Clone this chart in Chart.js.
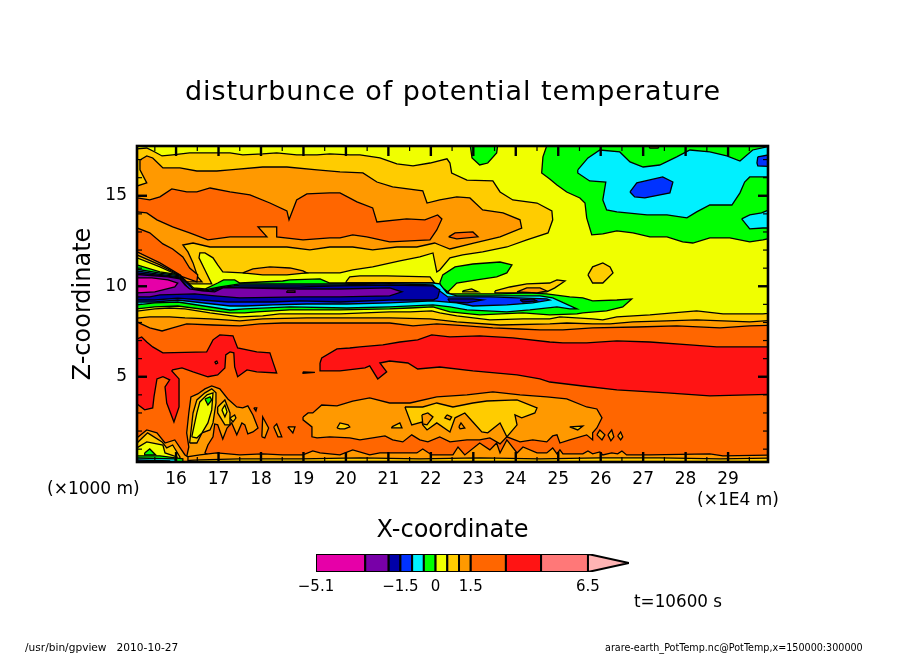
<!DOCTYPE html>
<html><head><meta charset="utf-8">
<script src="https://cdn.jsdelivr.net/npm/chart.js@4"></script>
<style>html,body{margin:0;padding:0;background:#fff}canvas{position:absolute}</style></head>
<body>
<canvas id="main" width="904" height="654" style="left:0;top:0"></canvas>
<canvas id="bar" width="350" height="55" style="left:290px;top:545px"></canvas>
<script>
// Contour regions, as [x (1E4 m), z (km)]
const goldMain=[[14.91,17.53],[15.05,17.59],[15.31,17.64],[15.50,17.42],[15.67,17.20],[15.92,17.26],[16.32,17.37],[16.63,17.37],[16.96,17.37],[17.27,17.37],[17.57,17.26],[18.04,17.31],[18.37,17.37],[18.84,17.26],[19.32,17.26],[19.62,17.31],[20.09,17.26],[20.33,17.26],[20.80,17.09],[21.20,16.76],[21.58,16.65],[21.98,16.81],[22.38,17.04],[22.45,16.81],[22.49,16.26],[22.85,15.87],[23.46,15.82],[23.63,15.21],[23.93,14.77],[24.50,14.60],[24.85,14.16],[24.87,13.67],[24.76,12.95],[24.26,12.56],[23.79,12.17],[23.22,11.90],[22.75,11.73],[22.45,11.57],[22.21,10.90],[22.14,10.79],[22.05,11.84],[21.74,11.62],[21.27,11.40],[20.63,11.07],[20.16,10.90],[19.86,10.74],[19.39,10.74],[19.08,10.74],[17.57,10.74],[17.10,10.79],[16.98,11.18],[16.87,11.57],[16.68,11.84],[16.56,11.84],[16.54,11.57],[16.68,10.90],[16.84,10.13],[16.32,10.13],[15.08,11.18],[14.91,11.18]];
const amberMain=[[15.15,16.98],[15.31,17.20],[15.45,17.09],[15.62,16.70],[15.69,16.54],[16.09,16.54],[16.49,16.37],[16.96,16.37],[17.27,16.43],[18.04,16.59],[18.61,16.59],[19.32,16.43],[19.86,16.32],[20.40,16.26],[20.73,15.76],[21.10,15.49],[21.81,15.27],[21.91,14.60],[22.21,14.77],[22.61,14.94],[22.92,14.88],[23.22,14.22],[23.70,14.05],[24.10,13.67],[24.14,13.22],[23.63,12.73],[23.01,12.39],[22.45,12.06],[22.21,12.28],[22.09,12.39],[21.67,12.17],[21.20,12.17],[20.63,12.01],[20.16,12.17],[19.62,12.17],[19.15,12.01],[18.61,12.17],[18.04,12.17],[17.27,12.17],[16.80,12.17],[16.40,12.39],[16.16,12.28],[16.28,11.90],[16.40,11.29],[16.51,10.52],[16.61,10.24],[16.09,10.24],[15.08,11.57],[14.91,11.73],[14.91,15.54],[15.08,15.54],[15.31,15.71],[15.15,16.43]];
const orangeUpper=[[14.91,14.88],[15.08,14.88],[15.38,14.77],[15.62,14.94],[15.90,15.38],[16.25,15.21],[16.49,15.21],[16.80,15.43],[17.27,15.21],[17.74,15.05],[18.21,14.60],[18.61,14.16],[18.66,13.67],[18.84,14.77],[19.08,15.10],[19.62,15.16],[19.86,15.16],[20.26,14.66],[20.63,14.33],[20.73,13.55],[21.43,13.72],[21.86,13.67],[22.16,13.94],[22.26,13.72],[22.14,13.11],[21.98,12.56],[21.03,12.45],[20.49,12.73],[20.16,12.84],[19.86,12.67],[19.62,12.67],[18.99,12.56],[18.37,12.73],[18.37,13.28],[17.93,13.28],[18.14,12.73],[17.27,12.73],[16.75,12.56],[16.32,12.95],[15.92,13.28],[15.55,13.67],[15.31,14.05],[15.08,14.11],[14.91,14.11]];
const orangeLens=[[22.42,12.73],[22.57,12.95],[22.99,13.00],[23.11,12.73],[22.61,12.62]];
const amberLens=[[17.57,10.74],[17.81,10.96],[18.21,11.07],[18.68,11.01],[18.99,10.85],[19.08,10.74],[18.61,10.63],[18.04,10.63]];
const orangeLower=[[14.91,13.22],[15.08,13.22],[15.38,12.95],[15.69,12.34],[15.92,12.06],[16.16,11.62],[16.32,11.01],[16.51,10.63],[16.49,10.24],[16.09,10.57],[15.08,11.90],[14.91,11.90]];
const amberWedge=[[14.91,11.95],[15.08,11.90],[15.62,11.29],[16.09,10.63],[16.21,10.29],[14.91,10.29]];
const goldWedge=[[14.91,11.73],[15.08,11.73],[15.62,11.18],[16.09,10.60],[16.21,10.29],[14.91,10.29]];
const yellowWedge=[[14.91,11.57],[15.08,11.57],[15.62,11.07],[16.09,10.57],[16.21,10.29],[14.91,10.29]];
const greenTopBlob=[[22.92,17.9],[22.97,17.09],[23.15,16.70],[23.34,16.81],[23.55,17.37],[23.58,17.9]];
const greenMain=[[24.75,17.9],[24.64,17.15],[24.61,16.26],[24.80,15.93],[24.97,15.60],[25.20,15.21],[25.51,14.88],[25.63,14.60],[25.67,13.78],[25.79,12.84],[26.05,12.89],[26.38,13.06],[26.76,12.95],[27.16,12.73],[27.56,12.73],[27.93,12.45],[28.17,12.39],[28.57,12.67],[29.04,12.67],[29.51,12.45],[29.82,12.56],[30.22,12.78],[30.22,18.1]];
const cyanMain=[[25.46,16.43],[25.70,17.09],[25.98,17.53],[26.45,17.42],[26.69,16.87],[27.00,16.59],[27.39,16.70],[27.79,17.15],[28.10,17.53],[28.57,17.42],[28.97,17.20],[29.28,16.92],[29.58,17.53],[29.91,17.70],[30.22,17.70],[30.22,16.04],[29.51,16.04],[29.39,15.76],[29.28,15.16],[29.09,14.49],[28.57,14.49],[28.26,14.11],[28.03,13.78],[27.56,13.94],[27.09,13.94],[26.38,14.11],[26.14,14.22],[26.05,14.77],[26.12,15.76],[25.74,15.82],[25.46,16.26]];
const blueBlob=[[26.69,15.21],[26.85,15.71],[27.46,16.04],[27.70,15.76],[27.63,15.16],[27.04,14.88],[26.80,14.94]];
const blueRight=[[29.70,17.15],[30.22,17.37],[30.22,16.59],[29.70,16.65],[29.68,16.81]];
const cyanRight=[[29.32,13.72],[29.51,13.94],[29.79,14.05],[30.22,14.49],[30.22,13.22],[29.82,13.22],[29.51,13.17]];
const goldBlob=[[25.70,10.63],[25.81,11.07],[26.05,11.29],[26.22,11.07],[26.29,10.74],[26.05,10.18],[25.81,10.18]];
const yellowDot=[[27.09,17.9],[27.42,17.9],[27.35,17.64],[27.16,17.64]];
const greenCentre=[[22.21,10.18],[22.28,10.63],[22.57,11.07],[22.99,11.23],[23.63,11.34],[23.91,11.18],[23.79,10.74],[23.55,10.52],[23.08,10.35],[22.61,10.18],[22.40,9.69],[22.26,9.91]];
const goldThin=[[20.00,10.24],[20.09,10.52],[20.33,10.57],[20.96,10.57],[21.98,10.52],[22.09,10.18],[20.00,10.18]];
const goldBand=[[23.51,9.74],[23.86,9.96],[24.26,10.13],[24.80,10.18],[24.97,10.35],[25.16,10.29],[24.92,9.91],[24.73,9.69],[24.03,9.63],[23.51,9.63]];
const amberBand=[[24.03,9.69],[24.26,9.91],[24.57,9.91],[24.73,9.74],[24.50,9.63]];
const goldSmall=[[22.75,9.74],[22.96,9.85],[23.11,9.69],[22.75,9.69]];
const greenBelt=[[14.91,11.18],[15.08,11.18],[15.62,10.79],[16.09,10.63],[16.23,10.29],[16.40,9.91],[16.68,9.85],[16.98,10.18],[17.12,10.35],[17.38,10.35],[17.50,10.18],[18.51,10.29],[18.68,10.35],[19.39,10.41],[19.62,10.18],[19.97,10.18],[21.27,10.18],[21.98,10.18],[22.14,10.13],[22.45,9.58],[22.99,9.58],[23.63,9.58],[24.26,9.63],[24.73,9.58],[25.27,9.41],[25.58,9.36],[25.81,9.19],[26.38,9.24],[26.73,9.30],[26.52,8.86],[26.14,8.64],[25.58,8.53],[25.44,8.47],[24.80,8.42],[24.17,8.53],[23.15,8.42],[22.45,8.58],[22.05,8.86],[21.51,8.80],[21.03,8.75],[19.86,8.69],[18.68,8.69],[17.90,8.58],[17.62,8.53],[17.27,8.53],[16.04,8.91],[15.50,8.86],[15.08,8.75],[14.91,8.75]];
const cyanBelt=[[14.91,11.01],[15.62,10.72],[16.09,10.57],[16.28,10.18],[16.44,9.85],[16.68,9.80],[17.03,9.96],[17.50,10.13],[18.92,10.13],[19.86,10.13],[21.03,10.18],[22.05,10.18],[22.21,10.13],[22.38,9.63],[22.61,9.47],[23.39,9.47],[24.57,9.47],[24.87,9.36],[25.44,8.75],[25.27,8.75],[24.97,8.86],[24.33,8.69],[23.79,8.58],[22.85,8.69],[22.45,8.86],[22.05,8.97],[21.03,8.86],[20.02,8.80],[18.68,8.86],[17.62,8.75],[17.27,8.69],[16.04,9.13],[15.50,9.08],[15.08,8.97],[14.91,8.97]];
const blueBelt=[[14.91,10.90],[15.62,10.66],[16.09,10.52],[16.25,10.18],[16.40,9.85],[16.68,9.74],[17.03,9.91],[17.50,10.07],[18.68,10.07],[19.86,10.07],[21.03,10.15],[22.05,10.07],[22.21,9.74],[22.40,9.41],[23.39,9.41],[24.73,9.30],[24.80,9.24],[24.40,9.08],[23.79,8.97],[22.99,8.91],[22.61,9.08],[22.05,9.19],[21.03,9.08],[20.02,9.02],[19.08,9.02],[18.28,8.97],[17.62,8.91],[17.27,8.91],[16.04,9.24],[15.50,9.13],[15.08,9.13],[14.91,9.13]];
const navyBelt=[[14.91,10.79],[15.62,10.60],[16.09,10.46],[16.25,10.02],[16.37,9.74],[16.68,9.63],[17.08,9.91],[17.50,9.96],[18.92,9.96],[19.86,10.02],[21.03,10.07],[22.05,10.02],[22.21,9.80],[22.16,9.36],[22.05,9.24],[21.03,9.24],[19.86,9.13],[18.92,9.19],[18.28,9.13],[17.62,9.13],[17.22,9.13],[16.61,9.24],[16.04,9.35],[15.50,9.24],[15.08,9.24],[14.91,9.24]];
const navyRight=[[22.40,9.30],[22.99,9.30],[23.22,9.24],[22.85,9.08],[22.45,9.13]];
const navySmall=[[24.10,9.24],[24.40,9.30],[24.50,9.19],[24.17,9.13]];
const purpleBelt=[[14.91,10.68],[15.81,10.52],[16.09,10.41],[16.21,10.07],[16.32,9.85],[16.61,9.74],[16.91,9.69],[17.10,9.91],[17.38,9.91],[17.50,9.91],[18.92,9.85],[19.86,9.85],[21.03,9.91],[21.32,9.69],[21.03,9.47],[19.86,9.41],[18.92,9.41],[17.50,9.36],[16.91,9.47],[16.44,9.58],[15.62,9.52],[15.38,9.41],[15.08,9.41],[14.91,9.41]];
const magentaCore=[[14.91,10.46],[15.43,10.46],[15.81,10.35],[16.04,10.18],[15.97,9.96],[15.50,9.69],[15.08,9.63],[14.91,9.63]];
const magentaSpeck=[[18.61,9.74],[18.80,9.74],[18.80,9.66],[18.61,9.66]];
const goldBelowTop=[[14.91,8.58],[15.50,8.75],[15.85,8.80],[16.21,8.75],[16.80,8.53],[17.50,8.31],[18.04,8.36],[18.44,8.47],[19.86,8.47],[21.03,8.58],[21.51,8.58],[22.02,8.64],[22.21,8.53],[22.61,8.36],[23.39,8.14],[24.17,8.20],[24.80,8.20],[25.04,8.31],[25.81,8.20],[26.05,8.14],[26.38,8.31],[27.16,8.42],[27.70,8.53],[28.26,8.64],[28.88,8.47],[29.82,8.47],[30.22,8.58]];
const amberBelowTop=[[14.91,8.20],[15.38,8.31],[15.85,8.31],[16.21,8.25],[16.80,8.20],[17.50,8.09],[18.04,8.20],[19.08,8.25],[20.02,8.25],[21.03,8.25],[21.98,8.20],[22.61,8.03],[23.63,7.86],[24.80,7.92],[25.20,7.97],[25.81,7.92],[26.22,7.92],[26.76,8.03],[27.56,8.09],[28.26,8.14],[28.88,8.09],[29.51,8.03],[30.22,8.14]];
const orangeBelowTop=[[14.91,8.09],[15.08,8.03],[15.38,7.70],[15.67,7.53],[15.92,7.70],[16.25,7.92],[16.87,7.86],[17.50,7.81],[17.97,7.92],[18.51,7.97],[19.86,7.97],[21.03,7.97],[21.58,7.81],[22.14,7.92],[22.85,7.81],[23.46,7.70],[24.10,7.64],[24.57,7.59],[25.11,7.59],[25.81,7.70],[26.85,7.75],[27.79,7.81],[28.81,7.70],[29.51,7.81],[30.22,7.86]];
const redLeft=[[14.91,7.09],[15.08,7.09],[15.19,7.20],[15.31,6.92],[15.45,6.65],[15.69,6.32],[16.72,6.37],[16.87,7.04],[17.03,7.31],[17.34,7.26],[17.45,6.59],[17.90,6.37],[18.21,6.32],[18.28,5.82],[18.37,5.21],[17.90,5.27],[17.67,5.38],[17.45,5.00],[17.38,5.54],[17.36,6.32],[17.27,6.37],[17.17,6.21],[17.15,5.49],[16.98,5.10],[16.75,5.00],[16.40,5.27],[16.14,5.49],[15.92,5.38],[15.90,5.32],[16.07,4.88],[16.07,3.33],[15.95,2.50],[15.78,3.55],[15.74,4.44],[15.85,4.83],[15.69,5.00],[15.55,4.88],[15.48,3.89],[15.45,3.28],[15.26,3.17],[15.08,3.50],[14.91,3.50]];
const redDot=[[16.91,5.82],[16.96,5.87],[16.98,5.76],[16.94,5.71]];
const redMain=[[19.39,5.76],[19.43,6.04],[19.79,6.54],[20.09,6.59],[20.33,6.65],[20.87,6.76],[21.27,6.92],[21.69,7.04],[22.02,7.31],[22.45,7.20],[23.15,7.26],[23.93,7.15],[24.80,6.92],[25.11,6.87],[25.67,6.87],[26.38,6.98],[27.16,6.92],[28.10,6.76],[28.73,6.65],[30.22,6.65],[30.22,4.05],[28.57,3.94],[27.56,4.11],[26.38,4.27],[25.58,4.49],[24.80,4.71],[24.57,4.88],[24.03,5.10],[22.99,5.32],[22.21,5.54],[21.69,5.43],[21.46,5.76],[21.03,5.87],[20.80,5.76],[20.96,5.27],[20.75,4.88],[20.56,5.60],[20.45,5.49],[19.86,5.32],[19.39,5.32]];
const redSliver=[[18.99,5.27],[19.27,5.24],[18.99,5.19]];
const amberMid=[[18.99,2.78],[19.11,3.00],[19.22,3.00],[19.43,3.44],[19.79,3.39],[20.16,3.66],[20.56,3.83],[21.03,3.55],[21.51,3.55],[22.14,3.89],[22.85,4.00],[23.46,4.16],[24.10,4.00],[24.73,3.89],[25.20,3.78],[25.67,3.33],[25.91,3.22],[26.03,2.73],[25.91,2.17],[25.81,1.90],[25.81,1.51],[25.67,1.79],[25.27,1.51],[25.04,1.34],[24.97,1.79],[24.87,1.73],[24.73,1.40],[24.40,1.51],[24.10,1.40],[23.79,1.68],[23.63,1.29],[23.39,1.62],[23.15,1.51],[22.85,1.51],[22.45,1.40],[22.21,1.68],[21.93,1.40],[21.74,1.51],[21.55,1.79],[21.34,1.40],[21.10,1.51],[20.92,1.73],[20.63,1.62],[20.33,1.51],[20.09,1.62],[19.62,1.68],[19.32,1.62],[19.20,1.68],[19.20,2.23],[18.99,2.62]];
const goldMid=[[21.39,3.33],[21.81,3.33],[22.14,3.55],[22.52,3.33],[22.99,3.55],[23.32,3.66],[24.03,3.72],[24.50,3.28],[24.45,3.00],[24.14,2.73],[23.98,2.89],[24.03,2.34],[23.79,1.68],[23.63,2.45],[23.34,1.90],[23.20,1.95],[22.99,2.50],[22.80,3.00],[22.57,2.73],[22.45,1.95],[22.14,2.45],[21.91,2.06],[21.81,2.34],[21.79,2.50],[21.55,2.34]];
const amberHoleA=[[21.79,2.89],[21.93,3.00],[22.05,2.78],[21.91,2.34],[21.81,2.39]];
const amberHoleB=[[22.38,2.89],[22.49,2.78],[22.45,2.62],[22.33,2.73]];
const amberHoleC=[[22.66,2.23],[22.71,2.45],[22.80,2.17],[22.69,2.12]];
const goldIsleA=[[19.79,2.17],[19.86,2.45],[20.05,2.34],[20.09,2.23],[19.97,2.12],[19.86,2.12]];
const goldIsleB=[[21.08,2.23],[21.27,2.45],[21.32,2.17],[21.08,2.17]];
const goldIsleC=[[25.27,2.23],[25.58,2.28],[25.46,2.06]];
const amberLeft=[[16.25,0.57],[16.30,1.12],[16.25,1.90],[16.30,3.00],[16.35,3.89],[16.51,4.05],[16.68,4.33],[16.84,4.49],[17.03,4.33],[17.22,3.77],[17.43,3.33],[17.57,3.28],[17.69,3.39],[17.81,2.89],[17.93,2.17],[17.81,1.95],[17.69,1.84],[17.62,2.34],[17.55,2.45],[17.43,1.79],[17.31,2.45],[17.20,2.17],[17.10,1.56],[16.98,2.34],[16.91,2.39],[16.87,1.68],[16.75,1.23],[16.68,0.79],[16.80,0.63]];
const goldLeft=[[16.32,1.34],[16.40,3.00],[16.49,3.72],[16.68,4.11],[16.84,4.33],[16.94,4.11],[16.94,3.55],[16.87,2.45],[16.80,2.06],[16.61,1.90],[16.49,1.34]];
const goldLeftB=[[16.98,3.33],[17.15,3.72],[17.27,3.00],[17.27,2.34],[17.15,2.34],[16.98,3.00]];
const yellowLeftB=[[17.08,3.17],[17.15,3.44],[17.20,3.06],[17.15,2.78]];
const goldLeftC=[[17.27,2.72],[17.38,2.89],[17.41,2.72],[17.34,2.50]];
const yellowLeft=[[16.37,1.68],[16.49,3.00],[16.56,3.61],[16.73,4.00],[16.87,4.11],[16.84,3.17],[16.75,2.45],[16.61,1.90],[16.49,1.62]];
const greenLeft=[[16.68,3.77],[16.80,3.89],[16.84,3.72],[16.75,3.44]];
const isleA=[[18.02,1.68],[18.04,2.78],[18.18,2.17],[18.09,1.62]];
const isleB=[[18.30,2.23],[18.37,2.39],[18.49,1.68],[18.40,1.68]];
const isleC=[[18.63,2.23],[18.80,2.23],[18.75,1.90]];
const isleD=[[17.83,3.28],[17.90,3.28],[17.88,3.11]];
const isleE=[[25.91,1.79],[25.98,2.06],[26.10,1.79],[26.03,1.51]];
const isleF=[[26.17,1.79],[26.26,2.06],[26.31,1.68],[26.24,1.46]];
const isleG=[[26.40,1.73],[26.47,1.95],[26.52,1.68],[26.47,1.51]];
const amberFloorTop=[[16.09,0.52],[16.25,0.57],[16.56,0.68],[16.96,0.79],[17.50,0.68],[18.04,0.74],[18.51,0.68],[18.99,0.68],[19.22,0.90],[19.39,0.79],[19.62,0.74],[19.86,0.68],[20.16,0.96],[20.56,0.68],[20.80,0.79],[21.27,0.79],[21.67,0.79],[21.81,1.01],[22.02,0.68],[22.52,0.68],[22.64,1.12],[22.80,0.68],[23.15,1.34],[23.39,0.96],[23.55,1.34],[23.63,0.79],[23.79,1.51],[24.03,0.79],[24.17,1.12],[24.50,0.79],[24.73,0.79],[24.87,1.07],[24.97,0.74],[25.04,0.96],[25.11,0.74],[25.58,0.74],[25.70,0.90],[25.81,0.74],[25.98,0.85],[26.05,0.68],[26.26,0.79],[26.40,0.74],[26.50,0.90],[26.61,0.68],[27.16,0.68],[28.57,0.74],[28.88,0.63],[30.22,0.68]];
const goldFloorTop=[[16.09,0.35],[16.56,0.41],[17.50,0.46],[18.92,0.46],[20.33,0.52],[21.74,0.46],[23.15,0.52],[24.57,0.46],[25.98,0.52],[27.39,0.52],[28.81,0.46],[30.22,0.52]];
const amberCorner=[[14.91,1.62],[15.08,1.62],[15.31,2.06],[15.55,1.90],[15.74,1.34],[15.97,1.51],[16.21,0.68],[16.28,0.57],[16.28,-1],[14.91,-1]];
const goldCorner=[[14.91,1.34],[15.08,1.34],[15.33,1.90],[15.67,1.40],[15.78,1.07],[15.92,1.23],[16.09,0.57],[16.09,-1],[14.91,-1]];
const yellowCorner=[[14.91,1.07],[15.08,1.07],[15.31,1.40],[15.69,1.23],[15.74,0.79],[16.02,0.57],[16.02,-1],[14.91,-1]];
const greenSpot=[[15.26,0.79],[15.38,1.01],[15.52,0.68],[15.26,0.68]];
const greenCorner=[[14.91,0.63],[15.62,0.63],[16.16,0.46],[16.16,-1],[14.91,-1]];
const cyanCorner=[[14.91,0.52],[15.97,0.46],[16.1,-1],[14.91,-1]];
const blueCorner=[[14.91,0.41],[15.85,0.35],[16.0,-1],[14.91,-1]];
const plotBack=[[14.9,18.2],[30.3,18.2],[30.3,-1],[14.9,-1]];

const xTickValues=[15.5,16,16.5,17,17.5,18,18.5,19,19.5,20,20.5,21,21.5,22,22.5,23,23.5,24,24.5,25,25.5,26,26.5,27,27.5,28,28.5,29,29.5];
const zTickValues=[1,2,3,4,5,6,7,8,9,10,11,12,13,14,15,16,17];
const zLabelled=[5,10,15];
const barBounds=[-5.1,-3,-2,-1.5,-1,-0.5,0,0.5,1,1.5,3,4.5,6.5];
const barTip=8.25;
const barLabels=[-5.1,-1.5,0,1.5,6.5];
const C={magenta:'#e600a8',purple:'#7800a8',navy:'#0000a8',blue:'#0032ff',cyan:'#00f0ff',green:'#00ff00',yellow:'#f0ff00',gold:'#ffcc00',amber:'#ff9900',orange:'#ff6600',red:'#ff1414',salmon:'#ff7878',pink:'#ffb4b4'};
const barColors=[C.magenta,C.purple,C.navy,C.blue,C.cyan,C.green,C.yellow,C.gold,C.amber,C.orange,C.red,C.salmon];

const curtain=c=>c.concat([[c[c.length-1][0],-1],[c[0][0],-1]]);
const layers=[
 [plotBack,C.yellow,0],[goldMain,C.gold],[amberMain,C.amber],[orangeUpper,C.orange],[orangeLens,C.orange],[amberLens,C.amber],
 [greenTopBlob,C.green],[greenMain,C.green],[cyanMain,C.cyan],[blueBlob,C.blue],[blueRight,C.blue],[cyanRight,C.cyan],[yellowDot,C.gold],[goldBlob,C.gold],[greenCentre,C.green],
 [orangeLower,C.orange],[amberWedge,C.amber],[goldWedge,C.gold],[yellowWedge,C.yellow],[goldThin,C.gold],[goldBand,C.gold],[amberBand,C.amber],[goldSmall,C.gold],
 [curtain(goldBelowTop),C.gold],[curtain(amberBelowTop),C.amber],[curtain(orangeBelowTop),C.orange],
 [redLeft,C.red],[redDot,C.orange],[redMain,C.red],[redSliver,C.red],
 [amberMid,C.amber],[goldMid,C.gold],[amberHoleA,C.amber],[amberHoleB,C.amber],[amberHoleC,C.amber],[goldIsleA,C.gold],[goldIsleB,C.gold],[goldIsleC,C.gold],
 [amberLeft,C.amber],[goldLeft,C.gold],[goldLeftB,C.gold],[yellowLeftB,C.yellow],[goldLeftC,C.gold],[yellowLeft,C.yellow],[greenLeft,C.green],
 [isleA,C.amber],[isleB,C.amber],[isleC,C.amber],[isleD,C.amber],[isleE,C.amber],[isleF,C.amber],[isleG,C.amber],
 [curtain(amberFloorTop),C.amber],[curtain(goldFloorTop),C.gold],
 [amberCorner,C.amber],[goldCorner,C.gold],[yellowCorner,C.yellow],[greenSpot,C.green],[greenCorner,C.green],[cyanCorner,C.cyan],[blueCorner,C.blue],
 [greenBelt,C.green],[cyanBelt,C.cyan],[blueBelt,C.blue],[navyBelt,C.navy],[navyRight,C.navy],[navySmall,C.navy],[purpleBelt,C.purple],[magentaCore,C.magenta],[magentaSpeck,C.magenta]
];
const FONT='"DejaVu Sans"';
const poly=(pts,color,i,n,w)=>({data:pts.concat([pts[0]]).map(p=>({x:p[0],y:p[1]})),showLine:true,fill:'shape',backgroundColor:color,borderColor:'#000',borderWidth:w===undefined?1.3:w,pointRadius:0,tension:0,order:n-i});

const inwardTicks={id:'inwardTicks',afterDatasetsDraw(ch){
  const c=ch.ctx,a=ch.chartArea;c.save();c.strokeStyle='#000';
  for(const id of ['x','x2','y','y2']){const s=ch.scales[id];
    for(const t of s.ticks){
      const major=id[0]==='x'?Number.isInteger(t.value):t.value%5===0;
      const len=major?10:5;c.lineWidth=major?2.4:1.2;c.beginPath();
      const p=s.getPixelForValue(t.value);
      if(id==='x'){c.moveTo(p,a.bottom);c.lineTo(p,a.bottom-len);}
      if(id==='x2'){c.moveTo(p,a.top);c.lineTo(p,a.top+len);}
      if(id==='y'){c.moveTo(a.left,p);c.lineTo(a.left+len,p);}
      if(id==='y2'){c.moveTo(a.right,p);c.lineTo(a.right-len,p);}
      c.stroke();}}
  c.lineWidth=2.6;c.strokeRect(a.left,a.top,a.right-a.left,a.bottom-a.top);c.restore();}};
const notes={id:'notes',afterDraw(ch){const c=ch.ctx;c.save();c.fillStyle='#000';c.textBaseline='middle';
  const put=(t,x,y,size,al)=>{c.font=size+'px '+FONT;c.textAlign=al||'left';c.fillText(t,x,y);};
  c.letterSpacing='0.95px';put('disturbunce of potential temperature',453,93,27,'center');c.letterSpacing='0px';
  put('(×1000 m)',47,490,17);put('(×1E4 m)',697,501,17);put('t=10600 s',634,603,16.8);
  put('/usr/bin/gpview   2010-10-27',25,648,10.6);put('arare-earth_PotTemp.nc@PotTemp,x=150000:300000',605,648,9.6);
  c.restore();}};
const lim={x:{min:15.08,max:29.94},y:{min:0.29,max:17.75}};
const base={responsive:false,animation:false,devicePixelRatio:1,plugins:{legend:{display:false},tooltip:{enabled:false}}};
new Chart(document.getElementById('main'),{type:'scatter',
 data:{datasets:layers.map((l,i)=>poly(l[0],l[1],i,layers.length,l[2]))},
 plugins:[inwardTicks,notes],
 options:{...base,layout:{padding:0},scales:{
  x:{type:'linear',position:'bottom',...lim.x,grid:{drawTicks:false,drawOnChartArea:false},border:{display:false},
     afterBuildTicks:s=>{s.ticks=xTickValues.map(v=>({value:v}));},afterFit:s=>{s.height=192;},
     ticks:{autoSkip:false,maxRotation:0,padding:7,color:'#000',font:{family:FONT,size:17},callback:v=>Number.isInteger(v)?String(v):''},
     title:{display:true,text:'X-coordinate',color:'#000',font:{family:FONT,size:24},padding:{top:0,bottom:109}}},
  x2:{type:'linear',position:'top',...lim.x,grid:{drawTicks:false,drawOnChartArea:false},border:{display:false},ticks:{display:false},
     afterBuildTicks:s=>{s.ticks=xTickValues.map(v=>({value:v}));},afterFit:s=>{s.height=146;}},
  y:{type:'linear',position:'left',...lim.y,grid:{drawTicks:false,drawOnChartArea:false},border:{display:false},
     afterBuildTicks:s=>{s.ticks=zTickValues.map(v=>({value:v}));},afterFit:s=>{s.width=137;},
     ticks:{autoSkip:false,padding:10,color:'#000',font:{family:FONT,size:17},callback:v=>zLabelled.includes(v)?String(v):''},
     title:{display:true,text:'Z-coordinate',color:'#000',font:{family:FONT,size:24},padding:{top:69,bottom:0}}},
  y2:{type:'linear',position:'right',...lim.y,grid:{drawTicks:false,drawOnChartArea:false},border:{display:false},ticks:{display:false},
     afterBuildTicks:s=>{s.ticks=zTickValues.map(v=>({value:v}));},afterFit:s=>{s.width=136;}}
 }}});
const cells=barColors.map((col,i)=>poly([[barBounds[i],0],[barBounds[i+1],0],[barBounds[i+1],1],[barBounds[i],1]],col,i,13,2));
cells.push(poly([[6.5,0],[barTip,0.5],[6.5,1]],C.pink,12,13,2));
new Chart(document.getElementById('bar'),{type:'scatter',data:{datasets:cells},
 options:{...base,layout:{padding:{left:26,right:11,top:9,bottom:0}},scales:{
  x:{type:'linear',min:-5.1,max:barTip,grid:{display:false,drawTicks:false},border:{display:false},
     afterBuildTicks:s=>{s.ticks=barLabels.map(v=>({value:v}));},afterFit:s=>{s.height=28;},
     ticks:{autoSkip:false,maxRotation:0,padding:6,color:'#000',font:{family:FONT,size:15},callback:v=>String(v).replace('-','−')}},
  y:{type:'linear',min:0,max:1,display:false}
 }}});
</script>
</body></html>
